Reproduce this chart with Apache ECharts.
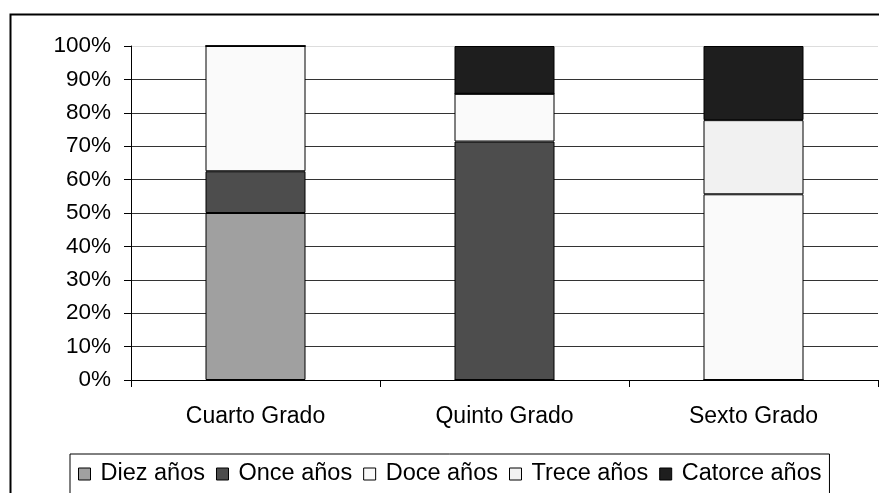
<!DOCTYPE html>
<html>
<head>
<meta charset="utf-8">
<script src="https://cdn.jsdelivr.net/npm/echarts@6/dist/echarts.min.js"></script>
<style>html,body{margin:0;padding:0;background:#fff;}#c{width:879px;height:493px;}</style>
</head>
<body>
<div id="c"></div>
<script>
const categories = ['Cuarto Grado', 'Quinto Grado', 'Sexto Grado'];
const seriesNames = ['Diez años', 'Once años', 'Doce años', 'Trece años', 'Catorce años'];
const diez = [50, 0, 0];
const once = [12.5, 71.4, 0];
const doce = [37.5, 14.3, 55.6];
const trece = [0, 0, 22.2];
const catorce = [0, 14.3, 22.2];
const colors = ['#a0a0a0', '#4d4d4d', '#fafafa', '#f1f1f1', '#1e1e1e'];
const yTicks = [0, 10, 20, 30, 40, 50, 60, 70, 80, 90, 100];

const values = [diez, once, doce, trece, catorce];
const font = 'Liberation Sans, Arial, sans-serif';
const chart = echarts.init(document.getElementById('c'), null, {renderer: 'canvas'});
chart.setOption({
  animation: false,
  backgroundColor: '#fff',
  graphic: [{
    type: 'rect', left: 8, top: 12, z: 100, silent: true,
    shape: {width: 900, height: 520},
    style: {fill: 'none', stroke: '#000', lineWidth: 2}
  }],
  grid: {left: 131, right: 1, top: 46, bottom: 113, containLabel: false},
  legend: {
    left: 70, top: 454, width: 780,
    data: seriesNames,
    icon: 'rect', itemWidth: 12, itemHeight: 12, itemGap: 11,
    padding: [8, 8, 8, 8],
    borderColor: '#000', borderWidth: 1,
    itemStyle: {borderColor: '#000', borderWidth: 1},
    textStyle: {fontFamily: font, fontSize: 23.5, lineHeight: 22, color: '#000', padding: [0, 0, 0, 5]}
  },
  xAxis: {
    type: 'category', data: categories, boundaryGap: true,
    axisLine: {lineStyle: {color: '#000', width: 1}},
    axisTick: {show: true, length: 7, alignWithLabel: false, lineStyle: {color: '#000'}},
    axisLabel: {fontFamily: font, fontSize: 23, color: '#000', margin: 25}
  },
  yAxis: {
    type: 'value', min: 0, max: 100, interval: 10,
    axisLine: {show: true, lineStyle: {color: '#000', width: 1}},
    axisTick: {show: true, length: 7, lineStyle: {color: '#000'}},
    axisLabel: {fontFamily: font, fontSize: 22.5, color: '#000', margin: 20,
      formatter: v => yTicks.includes(v) ? v + '%' : ''},
    splitLine: {show: true, lineStyle: {color: ['#000','#333','#333','#333','#333','#333','#333','#333','#333','#333','#dddddd'], width: 1}}
  },
  series: seriesNames.map((n, i) => ({
    name: n, type: 'bar', stack: 'total', barWidth: 100,
    data: values[i],
    itemStyle: {color: colors[i], borderColor: '#000', borderWidth: 1}
  }))
});
</script>
</body>
</html>
